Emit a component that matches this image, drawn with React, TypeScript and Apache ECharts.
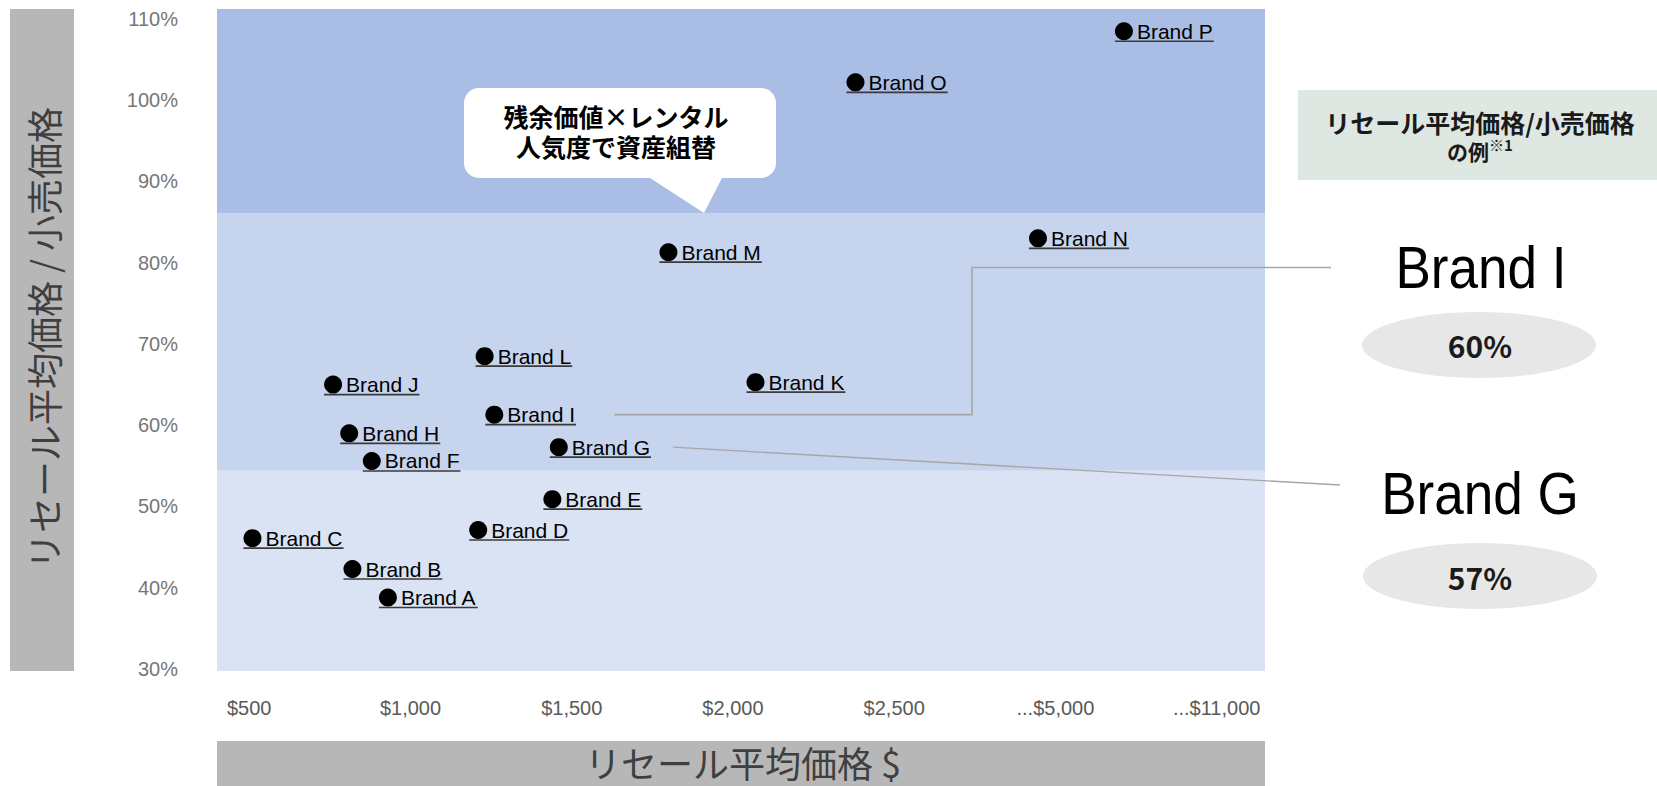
import React, { useEffect, useRef } from 'react';
import * as echarts from 'echarts';

// ---------- data ----------
const brandNames = [
  'Brand A', 'Brand B', 'Brand C', 'Brand D', 'Brand E', 'Brand F', 'Brand G', 'Brand H',
  'Brand I', 'Brand J', 'Brand K', 'Brand L', 'Brand M', 'Brand N', 'Brand O', 'Brand P',
];
// average resale price ($)
const resalePrices = [930, 820, 510, 1210, 1440, 880, 1460, 810, 1260, 760, 2070, 1230, 1800, 4730, 2380, 7550];
// resale price / retail price (%)
const resaleRatios = [38.8, 42.3, 46.1, 47.1, 50.9, 55.6, 57.3, 59.0, 61.3, 65.0, 65.3, 68.5, 81.3, 83.0, 102.2, 108.5];

const xTickPrices = [500, 1000, 1500, 2000, 2500, 5000, 11000];
const xTickLabels = ['$500', '$1,000', '$1,500', '$2,000', '$2,500', '...$5,000', '...$11,000'];
const yTickValues = [30, 40, 50, 60, 70, 80, 90, 100, 110];
const bandEdges = [54.4, 86.1];
const bandColors = ['#DAE3F3', '#C6D4EE', '#AABEE5'];

const highlightBrands = ['Brand I', 'Brand G'];
const highlightValues = ['60%', '57%'];

const yTitle = 'リセール平均価格 / 小売価格';
const xTitle = 'リセール平均価格 $';
const calloutLines = ['残余価値×レンタル', '人気度で資産組替'];
const panelTitle = 'リセール平均価格/小売価格';
const panelSub = 'の例';
const panelNote = '※1';

// ---------- scale helpers ----------
const X_MIN = -0.2;
const X_MAX = 6.3;
const Y_MIN = 29.75;
const Y_MAX = 111.23;

function priceToAxis(p: number): number {
  if (p <= xTickPrices[0]) return (p - xTickPrices[0]) / (xTickPrices[1] - xTickPrices[0]);
  for (let i = 0; i < xTickPrices.length - 1; i++) {
    const a = xTickPrices[i];
    const b = xTickPrices[i + 1];
    if (p <= b) return i + (p - a) / (b - a);
  }
  const n = xTickPrices.length;
  return n - 1 + (p - xTickPrices[n - 1]) / (xTickPrices[n - 1] - xTickPrices[n - 2]);
}

const LABEL_FONT = '21px "Liberation Sans", Arial, sans-serif';
const CJK = '"Noto Sans CJK JP", "Noto Sans", sans-serif';

let measureCtx: CanvasRenderingContext2D | null = null;
function measure(text: string, font: string): number {
  if (!measureCtx) measureCtx = document.createElement('canvas').getContext('2d');
  if (!measureCtx) return text.length * 10;
  measureCtx.font = font;
  return measureCtx.measureText(text).width;
}

export default function App() {
  const ref = useRef<HTMLDivElement>(null);

  useEffect(() => {
    if (!ref.current) return;
    const chart = echarts.init(ref.current, null, { renderer: 'svg' });

    const points = brandNames.map((_, i) => [priceToAxis(resalePrices[i]), resaleRatios[i]]);

    const option: any = {
      animation: false,
      backgroundColor: '#ffffff',
      grid: { left: 217, top: 9, width: 1048, height: 662, containLabel: false },
      xAxis: {
        type: 'value',
        min: X_MIN,
        max: X_MAX,
        axisLine: { show: false },
        axisTick: { show: false },
        splitLine: { show: false },
        axisLabel: {
          customValues: xTickLabels.map((_, i) => i),
          formatter: (v: number) => xTickLabels[Math.round(v)] ?? '',
          color: '#595959',
          fontSize: 20,
          fontFamily: '"Liberation Sans", Arial, sans-serif',
          margin: 27,
        },
      },
      yAxis: {
        type: 'value',
        min: Y_MIN,
        max: Y_MAX,
        axisLine: { show: false },
        axisTick: { show: false },
        splitLine: { show: false },
        axisLabel: {
          customValues: yTickValues,
          formatter: (v: number) => `${Math.round(v)}%`,
          color: '#767676',
          fontSize: 20,
          fontFamily: '"Liberation Sans", Arial, sans-serif',
          margin: 39,
        },
      },
      series: [
        {
          type: 'line',
          data: [],
          z: 1,
          silent: true,
          markArea: {
            silent: true,
            data: [
              [{ xAxis: X_MIN, yAxis: Y_MIN, itemStyle: { color: bandColors[0] } }, { xAxis: X_MAX, yAxis: bandEdges[0] }],
              [{ xAxis: X_MIN, yAxis: bandEdges[0], itemStyle: { color: bandColors[1] } }, { xAxis: X_MAX, yAxis: bandEdges[1] }],
              [{ xAxis: X_MIN, yAxis: bandEdges[1], itemStyle: { color: bandColors[2] } }, { xAxis: X_MAX, yAxis: Y_MAX }],
            ],
          },
        },
        {
          type: 'custom',
          z: 5,
          data: points,
          encode: { x: 0, y: 1 },
          renderItem: (params: any, api: any) => {
            const c = api.coord([api.value(0), api.value(1)]);
            const name = brandNames[params.dataIndex];
            const w = measure(name, LABEL_FONT);
            const tx = c[0] + 13;
            return {
              type: 'group',
              children: [
                { type: 'circle', shape: { cx: c[0], cy: c[1], r: 9 }, style: { fill: '#000000' } },
                {
                  type: 'text',
                  x: tx,
                  y: c[1],
                  style: { text: name, font: LABEL_FONT, fill: '#000000', align: 'left', verticalAlign: 'middle' },
                },
                {
                  type: 'line',
                  shape: { x1: c[0] - 9, y1: c[1] + 10, x2: tx + w + 1, y2: c[1] + 10 },
                  style: { stroke: '#3a3a3a', lineWidth: 1.6 },
                },
              ],
            };
          },
        },
      ],
    };

    chart.setOption(option);

    const idxI = brandNames.indexOf(highlightBrands[0]);
    const idxG = brandNames.indexOf(highlightBrands[1]);
    const pI = chart.convertToPixel({ gridIndex: 0 }, points[idxI]) as number[];
    const pG = chart.convertToPixel({ gridIndex: 0 }, points[idxG]) as number[];

    const graphics: any[] = [
      // y-axis title box
      { type: 'rect', z: 100, shape: { x: 10, y: 9, width: 64, height: 662 }, style: { fill: '#B8B7B8' } },
      {
        type: 'text', z: 101, x: 43, y: 338, rotation: Math.PI / 2,
        style: { text: yTitle, font: `36px ${CJK}`, fill: '#3F3F3F', align: 'center', verticalAlign: 'middle' },
      },
      // x-axis title box
      { type: 'rect', z: 100, shape: { x: 217, y: 741, width: 1048, height: 45 }, style: { fill: '#B8B7B8' } },
      {
        type: 'text', z: 101, x: 743, y: 762,
        style: { text: xTitle, font: `36px ${CJK}`, lineHeight: 38, fill: '#3F3F3F', align: 'center', verticalAlign: 'middle' },
      },
      // callout bubble
      { type: 'rect', z: 100, shape: { x: 464, y: 88, width: 312, height: 90, r: 15 }, style: { fill: '#ffffff' } },
      { type: 'polygon', z: 100, shape: { points: [[647, 176], [723, 176], [704, 213]] }, style: { fill: '#ffffff' } },
      {
        type: 'text', z: 101, x: 616, y: 131,
        style: {
          text: calloutLines.join('\n'),
          font: `bold 25px ${CJK}`,
          lineHeight: 30,
          fill: '#000000',
          align: 'center',
          verticalAlign: 'middle',
        },
      },
      // right panel header
      { type: 'rect', z: 100, shape: { x: 1298, y: 90, width: 359, height: 90 }, style: { fill: '#DFE7E2' } },
      {
        type: 'text', z: 101, x: 1480, y: 136,
        style: {
          text: `{t|${panelTitle}}\n{a|${panelSub}}{b|${panelNote}}`,
          align: 'center',
          verticalAlign: 'middle',
          rich: {
            t: { fontFamily: CJK, fontWeight: 'bold', fontSize: 25, fill: '#1A1A1A', lineHeight: 30 },
            a: { fontFamily: CJK, fontWeight: 'bold', fontSize: 21, fill: '#1A1A1A', lineHeight: 28 },
            b: { fontFamily: CJK, fontWeight: 'bold', fontSize: 15, fill: '#1A1A1A', lineHeight: 28, verticalAlign: 'top' },
          },
        },
      },
      // highlight callouts
      {
        type: 'text', z: 101, x: 1481, y: 268, scaleX: 0.9,
        style: { text: highlightBrands[0], font: '59px "Liberation Sans", Arial, sans-serif', fill: '#000000', align: 'center', verticalAlign: 'middle' },
      },
      { type: 'ellipse', z: 100, shape: { cx: 1479, cy: 345, rx: 117, ry: 33 }, style: { fill: '#E7E7E7' } },
      {
        type: 'text', z: 101, x: 1480, y: 345,
        style: { text: highlightValues[0], font: `bold 30px ${CJK}`, fill: '#1A1A1A', align: 'center', verticalAlign: 'middle' },
      },
      {
        type: 'text', z: 101, x: 1480, y: 494, scaleX: 0.9,
        style: { text: highlightBrands[1], font: '59px "Liberation Sans", Arial, sans-serif', fill: '#000000', align: 'center', verticalAlign: 'middle' },
      },
      { type: 'ellipse', z: 100, shape: { cx: 1480, cy: 576, rx: 117, ry: 33 }, style: { fill: '#E7E7E7' } },
      {
        type: 'text', z: 101, x: 1480, y: 577,
        style: { text: highlightValues[1], font: `bold 30px ${CJK}`, fill: '#1A1A1A', align: 'center', verticalAlign: 'middle' },
      },
      // connectors
      {
        type: 'polyline', z: 100,
        shape: { points: [[pI[0] + 120, pI[1]], [972, pI[1]], [972, 267.5], [1331, 267.5]] },
        style: { stroke: '#A6A6A6', lineWidth: 1.6, fill: null },
      },
      {
        type: 'line', z: 100,
        shape: { x1: pG[0] + 114, y1: pG[1], x2: 1340, y2: 485 },
        style: { stroke: '#A6A6A6', lineWidth: 1.4 },
      },
    ];

    chart.setOption({ graphic: { elements: graphics } });

    return () => chart.dispose();
  }, []);

  return (
    <div
      ref={ref}
      style={{ position: 'absolute', left: 0, top: 0, width: 1657, height: 786, background: '#ffffff' }}
    />
  );
}
